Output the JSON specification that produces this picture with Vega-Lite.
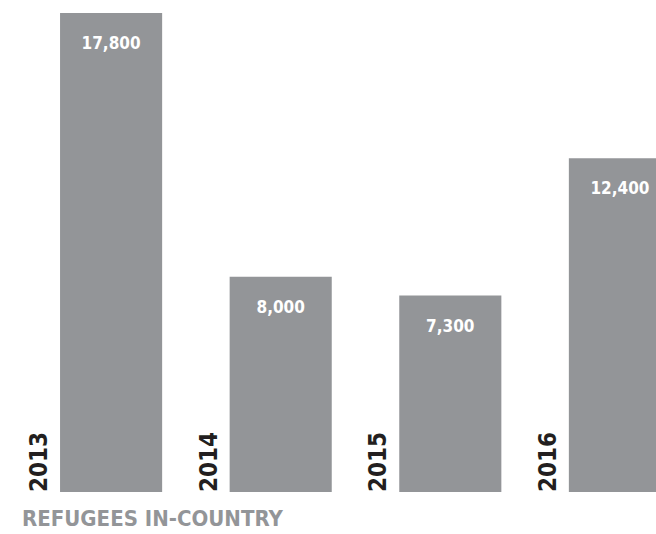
{
  "$schema": "https://vega.github.io/schema/vega-lite/v6.json",
  "width": 656,
  "height": 479,
  "autosize": {"type": "none"},
  "padding": {"left": 0, "top": 13, "right": 0, "bottom": 42},
  "background": "white",
  "config": {"view": {"stroke": null}},
  "title": {
    "text": "REFUGEES IN-COUNTRY",
    "orient": "bottom",
    "anchor": "start",
    "frame": "bounds",
    "offset": 17,
    "dx": 22,
    "baseline": "top",
    "font": "DejaVu Sans Condensed",
    "fontWeight": "bold",
    "fontSize": 22,
    "color": "#939598"
  },
  "data": {
    "values": [
      {"year": "2013", "refugees": 17800, "label": "17,800"},
      {"year": "2014", "refugees": 8000, "label": "8,000"},
      {"year": "2015", "refugees": 7300, "label": "7,300"},
      {"year": "2016", "refugees": 12400, "label": "12,400"}
    ]
  },
  "encoding": {
    "x": {
      "field": "year",
      "type": "nominal",
      "axis": null,
      "scale": {"range": [0, 731], "paddingInner": 0.398, "paddingOuter": 0.354}
    }
  },
  "layer": [
    {
      "mark": {"type": "bar", "color": "#939598", "clip": true},
      "encoding": {
        "y": {"field": "refugees", "type": "quantitative", "axis": null, "scale": {"domain": [0, 17800], "nice": false}}
      }
    },
    {
      "mark": {"type": "text", "color": "white", "font": "DejaVu Sans Condensed", "fontWeight": "bold", "fontSize": 17, "baseline": "middle", "dy": 31, "clip": true},
      "encoding": {
        "y": {"field": "refugees", "type": "quantitative"},
        "text": {"field": "label"}
      }
    },
    {
      "mark": {"type": "text", "color": "#231f20", "font": "DejaVu Sans Condensed", "fontWeight": "bold", "fontSize": 24, "angle": 270, "align": "left", "baseline": "bottom", "xOffset": -8},
      "encoding": {
        "x": {"field": "year", "type": "nominal", "bandPosition": 0},
        "y": {"datum": 0, "type": "quantitative"},
        "text": {"field": "year"}
      }
    }
  ]
}
